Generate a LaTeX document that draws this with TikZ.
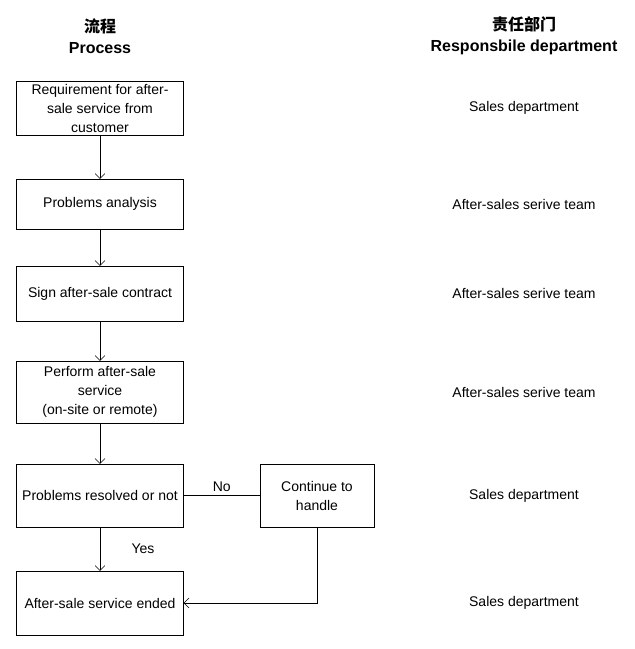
\documentclass[tikz,border=0pt]{standalone}
\usepackage{fontspec}
\setmainfont{Liberation Sans}
\newfontfamily\cjk{Noto Sans CJK SC}
\usetikzlibrary{positioning, arrows.meta}
\begin{document}
\begin{tikzpicture}[x=1pt, y=-1pt, >={Straight Barb[length=5pt, width=10pt]}]
	\tikzset{box/.style={draw=black, minimum width=167pt, align=center, inner sep=1pt, font=\fontsize{14}{19}\selectfont},
		dept/.style={font=\fontsize{14}{16}\selectfont},
		head/.style={align=center, font=\fontsize{16}{21}\selectfont\bfseries}};
	\useasboundingbox (0,0) rectangle (635,649);

	\node[head] (hp) at (100, 36) {{\cjk 流程}\\Process};
	\node[head] (hd) at (524, 36) {{\cjk 责任部门}\\Responsbile department};

	\node[box, minimum height=54pt] (req) at (100, 108) {Requirement for after-\\sale service from\\customer};
	\node[box, minimum height=50pt] (ana) at (100, 204) {Problems analysis};
	\node[box, minimum height=55pt] (sign) at (100, 293.5) {Sign after-sale contract};
	\node[box, minimum height=62pt] (perf) at (100, 392) {Perform after-sale\\service\\(on-site or remote)};
	\node[box, minimum height=63pt] (res) at (100, 495.5) {Problems resolved or not};
	\node[box, minimum height=64pt] (end) at (100, 603) {After-sale service ended};
	\node[box, minimum width=114pt, minimum height=63pt] (cont) at (317, 495.5) {Continue to\\handle};

	\node[dept] (d1) at (524, 108) {Sales department};
	\node[dept] (d2) at (524, 204) {After-sales serive team};
	\node[dept] (d3) at (524, 293.5) {After-sales serive team};
	\node[dept] (d4) at (524, 392) {After-sales serive team};
	\node[dept] (d5) at (524, 495.5) {Sales department};
	\node[dept] (d6) at (524, 603) {Sales department};

	\draw[->] (req) to (ana);
	\draw[->] (ana) to (sign);
	\draw[->] (sign) to (perf);
	\draw[->] (perf) to (res);
	\draw[->] (res) to node[dept, right=28pt, pos=0.5] {Yes} (end);
	\draw (res) to node[dept, above, pos=0.5] {No} (cont);
	\draw[->] (cont.south) |- (end.east);
\end{tikzpicture}
\end{document}
